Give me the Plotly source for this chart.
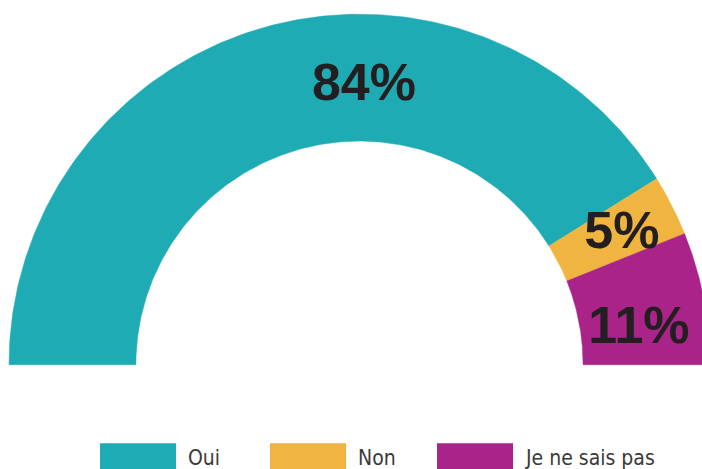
import numpy as np
import plotly.graph_objects as go

# ---- data ----
categories = ["Oui", "Non", "Je ne sais pas"]
shares = [82.2, 5.6, 12.2]          # share of the half ring as drawn
pct_labels = ["84%", "5%", "11%"]
colors = ["#1fabb4", "#f0b541", "#a92389"]

# ---- layout constants ----
W, H = 702, 469
CX, CY = 359.5, 364.7      # ring centre in px (from top-left)
R_OUT = 350.5              # outer radius in px
HOLE = 0.638               # inner / outer
LABEL_ANGLE = [89.1, 27.0, 7.9]
LABEL_R = [0.805, 0.84, 0.805]
LABEL_DY_PX = -4.0         # font-centering correction

fig = go.Figure()

total = float(sum(shares))
cum = 0.0
for cat, val, col in zip(categories, shares, colors):
    a0 = 180.0 - 180.0 * cum / total
    cum += val
    a1 = 180.0 - 180.0 * cum / total
    t = np.radians(np.linspace(a0, a1, 200))
    xs = np.concatenate([np.cos(t), HOLE * np.cos(t[::-1])])
    ys = np.concatenate([np.sin(t), HOLE * np.sin(t[::-1])])
    fig.add_trace(go.Scatter(
        x=np.append(xs, xs[0]), y=np.append(ys, ys[0]),
        mode="lines", fill="toself", fillcolor=col,
        line=dict(width=0.5, color=col),
        name=cat, showlegend=False, hoverinfo="skip"))

la = np.radians(LABEL_ANGLE)
fig.add_trace(go.Scatter(
    x=np.array(LABEL_R) * np.cos(la),
    y=np.array(LABEL_R) * np.sin(la) + LABEL_DY_PX / R_OUT,
    mode="text", text=pct_labels, textposition="middle center",
    textfont=dict(family="Liberation Sans", size=52, color="#231f20", weight="bold"),
    showlegend=False, hoverinfo="skip"))

# ---- custom legend ----
SW_X0 = [100, 270, 437]
SW_W = 76
for i, (cat, col) in enumerate(zip(categories, colors)):
    x0 = SW_X0[i]
    fig.add_shape(type="rect", xref="paper", yref="paper",
                  x0=x0 / W, x1=(x0 + SW_W) / W,
                  y0=-0.02, y1=(H - 443.3) / H,
                  fillcolor=col, line=dict(width=0), layer="above")
    fig.add_annotation(xref="paper", yref="paper",
                       x=(x0 + SW_W + 10) / W, y=(H - 458) / H,
                       xanchor="left", yanchor="middle", showarrow=False,
                       text=cat,
                       font=dict(family="DejaVu Sans Condensed, DejaVu Sans", size=21,
                                 color="#3a3a3a"))

fig.update_layout(
    width=W, height=H,
    margin=dict(l=0, r=0, t=0, b=0),
    paper_bgcolor="white", plot_bgcolor="white",
    xaxis=dict(range=[-CX / R_OUT, (W - CX) / R_OUT], visible=False, fixedrange=True),
    yaxis=dict(range=[-(H - CY) / R_OUT, CY / R_OUT], visible=False, fixedrange=True),
    hovermode=False,
    showlegend=False,
)

fig.write_html("out.html")
